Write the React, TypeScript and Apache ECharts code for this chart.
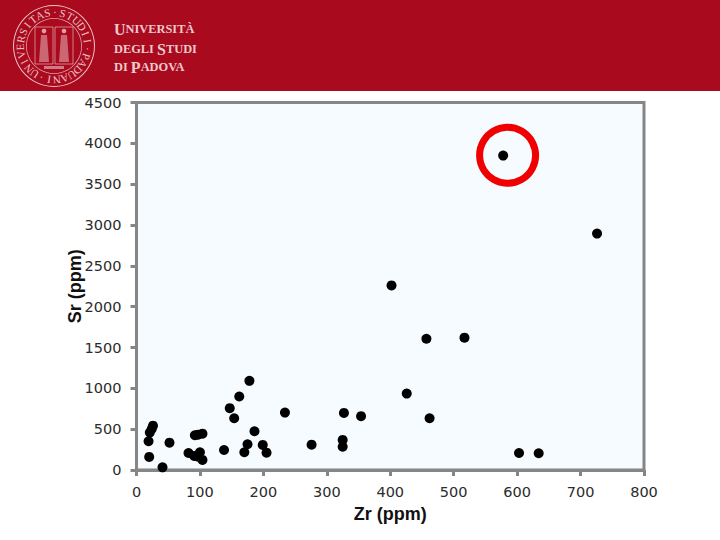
import React, { useEffect, useRef } from "react";
import * as echarts from "echarts";

const xTicks = [0, 100, 200, 300, 400, 500, 600, 700, 800];
const yTicks = [0, 500, 1000, 1500, 2000, 2500, 3000, 3500, 4000, 4500];
const zr = [178, 162, 147, 154, 234, 186, 175, 170, 199, 205, 276, 138, 100, 82, 91, 97, 104, 92, 97, 104, 52, 41, 20, 19, 21, 24, 26, 426, 327, 354, 462, 325, 325, 603, 634, 402, 457, 517, 726, 578];
const sr = [1092, 900, 757, 634, 703, 475, 315, 217, 307, 212, 310, 245, 217, 208, 172, 163, 123, 425, 433, 445, 335, 33, 160, 352, 458, 503, 543, 936, 699, 659, 634, 368, 286, 208, 205, 2260, 1607, 1620, 2895, 3850];
const highlighted = [[585, 3853]];
const sealText = "UNIVERSITAS·STUDII·PADUANI·";
const xName = "Zr (ppm)";
const yName = "Sr (ppm)";

function seal() {
  const cx = 54, cy = 46, items: any[] = [];
  const stroke = "#EBC3C8";
  items.push({ type: "ring", shape: { cx, cy, r: 41, r0: 40 }, style: { fill: stroke } });
  items.push({ type: "ring", shape: { cx, cy, r: 28, r0: 27.2 }, style: { fill: stroke, opacity: 0.8 } });
  const chars = sealText.split("");
  chars.forEach((c, i) => {
    const t = ((215 + (i * 360) / chars.length) * Math.PI) / 180;
    const r = 34;
    items.push({
      type: "text",
      x: cx + r * Math.sin(t),
      y: cy - r * Math.cos(t),
      rotation: -t,
      style: { text: c, fill: stroke, fontFamily: "Liberation Serif", fontSize: 11, align: "center", verticalAlign: "middle" },
    });
  });
  items.push({ type: "rect", shape: { x: 35, y: 27, width: 18, height: 37 }, style: { fill: "none", stroke, lineWidth: 0.8, opacity: 0.8 } });
  items.push({ type: "rect", shape: { x: 55, y: 27, width: 18, height: 37 }, style: { fill: "none", stroke, lineWidth: 0.8, opacity: 0.8 } });
  items.push({ type: "circle", shape: { cx: 44, cy: 31, r: 2.3 }, style: { fill: stroke, opacity: 0.8 } });
  items.push({ type: "circle", shape: { cx: 64, cy: 31, r: 2.3 }, style: { fill: stroke, opacity: 0.8 } });
  items.push({ type: "polygon", shape: { points: [[41, 35], [47, 35], [49, 62], [39, 62]] }, style: { fill: stroke, opacity: 0.5 } });
  items.push({ type: "polygon", shape: { points: [[61, 35], [67, 35], [69, 62], [59, 62]] }, style: { fill: stroke, opacity: 0.5 } });
  items.push({ type: "rect", shape: { x: 44, y: 66, width: 20, height: 3 }, style: { fill: stroke, opacity: 0.6 } });
  return items;
}

function line(x: number, y: number, a: string, b: string, c = "", d = "") {
  const fill = "#EBC9CD";
  const font = { fontFamily: "Liberation Serif", fontWeight: "bold" as const, fill };
  return {
    type: "text", x, y,
    style: {
      text: `{b|${a}}{s|${b}}{b|${c}}{s|${d}}`,
      fill,
      verticalAlign: "middle",
      rich: {
        b: { ...font, fontSize: 16 },
        s: { ...font, fontSize: 12.4 },
      },
    },
  };
}

export default function App() {
  const ref = useRef<HTMLDivElement>(null);
  useEffect(() => {
    document.body.style.margin = "0";
    const chart = echarts.init(ref.current!, undefined, { renderer: "svg" });
    const labelStyle = { color: "#2b2b2b", fontFamily: "DejaVu Sans", fontSize: 14.5 };
    const nameStyle = { color: "#111", fontFamily: "Liberation Sans", fontWeight: "bold" as const, fontSize: 18 };
    chart.setOption({
      animation: false,
      backgroundColor: "#fff",
      grid: {
        show: true, left: 136.5, right: 76, top: 102.5, bottom: 70,
        backgroundColor: "#F5FBFF", borderColor: "#868686", borderWidth: 3,
      },
      xAxis: {
        type: "value", min: 0, max: 800, interval: 100,
        name: xName, nameLocation: "middle", nameGap: 35, nameMoveOverlap: false,
        nameTextStyle: nameStyle,
        axisLine: { show: true, onZero: false, lineStyle: { color: "#868686", width: 3 } },
        axisTick: { show: true, length: 6, lineStyle: { color: "#868686", width: 3 } },
        axisLabel: { ...labelStyle, margin: 14, formatter: (v: number) => (xTicks.includes(v) ? String(v) : "") },
        splitLine: { show: false },
      },
      yAxis: {
        type: "value", min: 0, max: 4500, interval: 500,
        name: yName, nameLocation: "middle", nameGap: 53, nameMoveOverlap: false,
        nameTextStyle: nameStyle,
        axisLine: { show: true, onZero: false, lineStyle: { color: "#868686", width: 3 } },
        axisTick: { show: true, length: 6, lineStyle: { color: "#868686", width: 3 } },
        axisLabel: { ...labelStyle, margin: 15, formatter: (v: number) => (yTicks.includes(v) ? String(v) : "") },
        splitLine: { show: false },
      },
      series: [
        {
          type: "scatter", symbol: "circle", symbolSize: 10, clip: false,
          itemStyle: { color: "#000", opacity: 1 },
          data: zr.map((x, i) => [x, sr[i]]),
        },
        {
          type: "scatter", symbol: "circle", symbolSize: 56, clip: false,
          itemStyle: { color: "transparent", borderColor: "#F00000", borderWidth: 7, opacity: 1 },
          data: highlighted,
        },
      ],
      graphic: [
        {
          type: "group", silent: true, z: 100,
          children: [
            { type: "rect", shape: { x: 0, y: 0, width: 720, height: 91 }, style: { fill: "#AA0A1E" } },
            ...seal(),
            line(114, 29, "U", "NIVERSITÀ"),
            line(114, 49, "", "DEGLI ", "S", "TUDI"),
            line(114, 67, "", "DI ", "P", "ADOVA"),
          ],
        },
      ],
    });
    return () => chart.dispose();
  }, []);
  return <div ref={ref} style={{ width: 720, height: 540, position: "absolute", left: 0, top: 0 }} />;
}
